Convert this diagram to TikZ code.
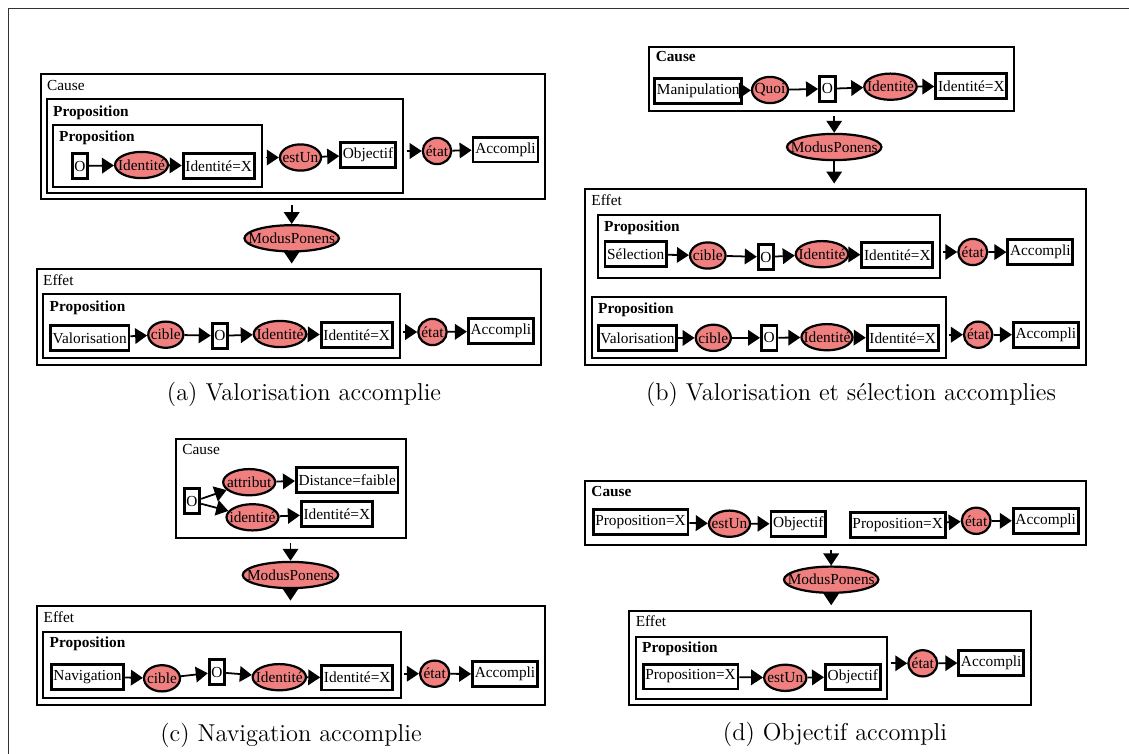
\documentclass[tikz,border=0pt]{standalone}
\usepackage{fontspec}
\usepackage{tikz}
\usetikzlibrary{arrows.meta,positioning,fit,shapes.geometric}
\newfontfamily\libserif{Liberation Serif}
\definecolor{relpink}{RGB}{240,128,128}
\newcommand{\nb}[1]{\makebox[0pt]{#1}}

\begin{document}
\begin{tikzpicture}[
  x=0.45pt, y=-0.45pt, >={Triangle[length=5.4pt,width=7pt]},
  txt/.style={font=\libserif\fontsize{6.9}{8}\selectfont},
  cont/.style={draw, line width=0.9pt, inner sep=0pt},
  lbl/.style={txt, anchor=base west, inner sep=0pt},
  plbl/.style={lbl, font=\libserif\fontsize{6.9}{8}\selectfont\bfseries},
  obj/.style={txt, draw, line width=1.3pt, fill=white, inner xsep=1pt,
              inner ysep=0pt, minimum height=11.2pt},
  rel/.style={txt, ellipse, draw, line width=1pt, fill=relpink,
              inner sep=0pt, minimum height=11.8pt, minimum width=#1},
  rel/.default=16pt,
  arr/.style={->, line width=0.8pt},
  captxt/.style={font=\fontsize{11}{13}\selectfont, anchor=base}]
\useasboundingbox (0,0) rectangle (1129,754);
\draw[line width=0.5pt, black!80] (8.5,754) -- (8.5,8.5) -- (1129,8.5);

% (a) valorisation
\node[cont, fit={(40.7,74.3)(545,199.3)}] (causeA) {};
\node[cont, fit={(46.7,99)(403.3,192.7)}] (propA1) {};
\node[cont, fit={(52.7,125)(262.3,186.7)}] (propA2) {};
\node[lbl] at ([shift={(7,17)}]causeA.north west) {Cause};
\node[plbl] at ([shift={(7,18)}]propA1.north west) {Proposition};
\node[plbl] at ([shift={(7,17)}]propA2.north west) {Proposition};
\node[obj] (oA1) at (80,166) {O};
\node[rel=23.8pt] (idA1) at (141.5,165) {\nb{Identité}};
\node[obj] (valA1) at (218.7,166) {Identité=X};
\node[rel=18.5pt] (estA) at (300.5,157.5) {\nb{estUn}};
\node[obj] (objA) at (368,155) {Objectif};
\node[rel=12.8pt] (etatA1) at (437,151) {\nb{état}};
\node[obj] (accA1) at (505.5,149.5) {Accompli};
\node[rel=42.5pt] (mpA) at (291.7,238.3) {\nb{ModusPonens}};
\node[cont, fit={(36.7,269)(541,365)}] (effA) {};
\node[cont, fit={(43.3,294.3)(400,358.3)}] (propA3) {};
\node[lbl] at ([shift={(7,17)}]effA.north west) {Effet};
\node[plbl] at ([shift={(7,18)}]propA3.north west) {Proposition};
\node[obj] (valoA) at (89.7,338) {Valorisation};
\node[rel=15.8pt] (cibA) at (165.8,334.7) {\nb{cible}};
\node[obj] (oA2) at (220,335.8) {O};
\node[rel=23.6pt] (idA2) at (280,334) {\nb{Identité}};
\node[obj] (valA2) at (356.7,335) {Identité=X};
\node[rel=12.8pt] (etatA2) at (432.5,332) {\nb{état}};
\node[obj] (accA2) at (500.8,331.3) {Accompli};
\node[captxt] (capA) at (304,400) {(a) Valorisation accomplie};
\draw[arr] (oA1) -- (idA1);
\draw[arr] (idA1) -- (valA1);
\draw[arr, shorten <=1pt] (propA2.east |- estA) -- (estA);
\draw[arr] (estA) -- (objA);
\draw[arr, shorten <=1pt] (propA1.east |- etatA1) -- (etatA1);
\draw[arr] (etatA1) -- (accA1);
\draw[arr, shorten <=2pt] (causeA.south -| mpA) -- (mpA);
\draw[arr, shorten >=2pt] (mpA) -- (mpA |- effA.north);
\draw[arr] (valoA) -- (cibA);
\draw[arr] (cibA) -- (oA2);
\draw[arr] (oA2) -- (idA2);
\draw[arr] (idA2) -- (valA2);
\draw[arr, shorten <=1pt] (propA3.east |- etatA2) -- (etatA2);
\draw[arr] (etatA2) -- (accA2);

% (b) valorisation et selection
\node[cont, fit={(649.3,46.7)(1014,111)}] (causeB) {};
\node[plbl] at ([shift={(7,16)}]causeB.north west) {Cause};
\node[obj] (manB) at (698.3,91.2) {Manipulation};
\node[rel=16.2pt] (quoiB) at (770,90) {\nb{Quoi}};
\node[obj] (oB1) at (827.3,88.8) {O};
\node[rel=23.6pt] (idB1) at (890.5,86.7) {\nb{Identité}};
\node[obj] (valB1) at (971.3,86.3) {Identité=X};
\node[rel=42.5pt] (mpB) at (834.2,147) {\nb{ModusPonens}};
\node[cont, fit={(585,189)(1085.7,365)}] (effB) {};
\node[cont, fit={(597.7,215)(940,277.7)}] (propB1) {};
\node[cont, fit={(591.7,297.3)(946,358.3)}] (propB2) {};
\node[lbl] at ([shift={(7,17)}]effB.north west) {Effet};
\node[plbl] at ([shift={(7,17)}]propB1.north west) {Proposition};
\node[plbl] at ([shift={(7,17)}]propB2.north west) {Proposition};
\node[obj] (selB) at (635.7,254.2) {Sélection};
\node[rel=16pt] (cibB1) at (707.8,255.5) {\nb{cible}};
\node[obj] (oB2) at (766,257) {O};
\node[rel=23.6pt] (idB2) at (822,254.2) {\nb{Identité}};
\node[obj] (valB2) at (897.3,255.2) {Identité=X};
\node[rel=13pt] (etatB1) at (972.8,252) {\nb{état}};
\node[obj] (accB1) at (1040.3,252.2) {Accompli};
\node[obj] (valoB) at (637.5,338.2) {Valorisation};
\node[rel=15.8pt] (cibB2) at (713.3,337.8) {\nb{cible}};
\node[obj] (oB3) at (769.2,337.8) {O};
\node[rel=23pt] (idB3) at (827,337.2) {\nb{Identité}};
\node[obj] (valB3) at (902.7,338.2) {Identité=X};
\node[rel=12.8pt] (etatB2) at (978.2,334.7) {\nb{état}};
\node[obj] (accB2) at (1045.8,334.7) {Accompli};
\node[captxt] (capB) at (851,400) {(b) Valorisation et sélection accomplies};
\draw[arr] (manB) -- (quoiB);
\draw[arr] (quoiB) -- (oB1);
\draw[arr] (oB1) -- (idB1);
\draw[arr] (idB1) -- (valB1);
\draw[arr, shorten <=2pt] (causeB.south -| mpB) -- (mpB);
\draw[arr, shorten >=2pt] (mpB) -- (mpB |- effB.north);
\draw[arr] (selB) -- (cibB1);
\draw[arr] (cibB1) -- (oB2);
\draw[arr] (oB2) -- (idB2);
\draw[arr] (idB2) -- (valB2);
\draw[arr, shorten <=1pt] (propB1.east |- etatB1) -- (etatB1);
\draw[arr] (etatB1) -- (accB1);
\draw[arr] (valoB) -- (cibB2);
\draw[arr] (cibB2) -- (oB3);
\draw[arr] (oB3) -- (idB3);
\draw[arr] (idB3) -- (valB3);
\draw[arr, shorten <=1pt] (propB2.east |- etatB2) -- (etatB2);
\draw[arr] (etatB2) -- (accB2);

% (c) navigation
\node[cont, fit={(176,439.3)(406,537.7)}] (causeC) {};
\node[lbl] at ([shift={(7,16)}]causeC.north west) {Cause};
\node[obj] (oC1) at (192,501.3) {O};
\node[rel=23.4pt] (attC) at (249.2,482.2) {\nb{attribut}};
\node[rel=23.4pt] (idtC) at (252.5,517.3) {\nb{identité}};
\node[obj] (distC) at (347.2,479.7) {Distance=faible};
\node[obj] (valC1) at (336.8,513.8) {Identité=X};
\node[rel=43pt] (mpC) at (290.5,575) {\nb{ModusPonens}};
\node[cont, fit={(37.3,606)(545,705)}] (effC) {};
\node[cont, fit={(43.3,631.7)(400.7,698.3)}] (propC) {};
\node[lbl] at ([shift={(7,17)}]effC.north west) {Effet};
\node[plbl] at ([shift={(7,17)}]propC.north west) {Proposition};
\node[obj] (navC) at (87.5,676.7) {Navigation};
\node[rel=16.2pt] (cibC) at (162,678.3) {\nb{cible}};
\node[obj] (oC2) at (217,672.2) {O};
\node[rel=24pt] (idC) at (279.3,677.2) {\nb{Identité}};
\node[obj] (valC2) at (357.2,677.5) {Identité=X};
\node[rel=13.2pt] (etatC) at (434.7,673.7) {\nb{état}};
\node[obj] (accC) at (505,674.2) {Accompli};
\node[captxt] (capC) at (291,741.7) {(c) Navigation accomplie};
\draw[arr] (oC1.15) -- (attC);
\draw[arr] (oC1.-15) -- (idtC);
\draw[arr] (attC) -- (distC);
\draw[arr] (idtC) -- (valC1);
\draw[arr, shorten <=2pt] (causeC.south -| mpC) -- (mpC);
\draw[arr, shorten >=2pt] (mpC) -- (mpC |- effC.north);
\draw[arr] (navC) -- (cibC);
\draw[arr] (cibC) -- (oC2);
\draw[arr] (oC2) -- (idC);
\draw[arr] (idC) -- (valC2);
\draw[arr, shorten <=1pt] (propC.east |- etatC) -- (etatC);
\draw[arr] (etatC) -- (accC);

% (d) objectif
\node[cont, fit={(585,481)(1085.7,545)}] (causeD) {};
\node[plbl] at ([shift={(7,16)}]causeD.north west) {Cause};
\node[obj] (propD1) at (640.5,522.2) {Proposition=X};
\node[rel=18.5pt] (estD1) at (729.5,523.7) {\nb{estUn}};
\node[obj] (objD1) at (798.3,523.8) {Objectif};
\node[obj] (propD2) at (897.7,525) {Proposition=X};
\node[rel=13pt] (etatD1) at (976.2,520.8) {\nb{état}};
\node[obj] (accD1) at (1045.7,520.8) {Accompli};
\node[rel=42.5pt] (mpD) at (831.2,579.7) {\nb{ModusPonens}};
\node[cont, fit={(629.3,610.7)(1030.7,705)}] (effD) {};
\node[cont, fit={(635.7,636.7)(887.3,699)}] (propD3) {};
\node[lbl] at ([shift={(7,17)}]effD.north west) {Effet};
\node[plbl] at ([shift={(7,17)}]propD3.north west) {Proposition};
\node[obj] (propD4) at (690.5,676.5) {Proposition=X};
\node[rel=19pt] (estD2) at (785.3,677.8) {\nb{estUn}};
\node[obj] (objD2) at (852.8,676.8) {Objectif};
\node[rel=13pt] (etatD2) at (922.8,663.3) {\nb{état}};
\node[obj] (accD2) at (991.2,662.8) {Accompli};
\node[captxt] (capD) at (835,740) {(d) Objectif accompli};
\draw[arr] (propD1) -- (estD1);
\draw[arr] (estD1) -- (objD1);
\draw[arr] (propD2) -- (etatD1);
\draw[arr] (etatD1) -- (accD1);
\draw[arr, shorten <=2pt] (causeD.south -| mpD) -- (mpD);
\draw[arr, shorten >=2pt] (mpD) -- (mpD |- effD.north);
\draw[arr] (propD4) -- (estD2);
\draw[arr] (estD2) -- (objD2);
\draw[arr, shorten <=1pt] (propD3.east |- etatD2) -- (etatD2);
\draw[arr] (etatD2) -- (accD2);
\end{tikzpicture}
\end{document}
